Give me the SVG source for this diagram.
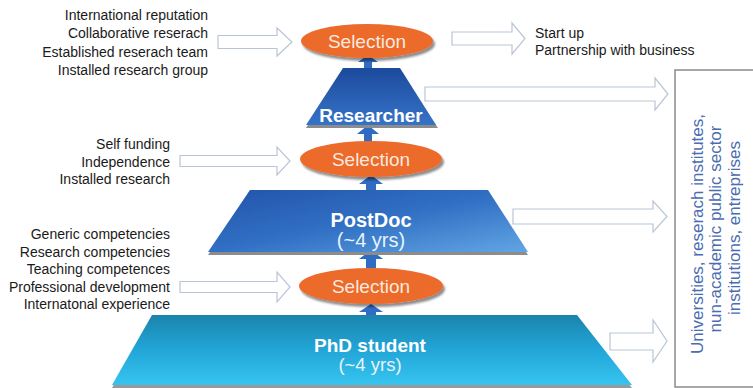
<svg xmlns="http://www.w3.org/2000/svg" width="753" height="388" viewBox="0 0 753 388">
<defs>
<linearGradient id="gRes" x1="0" y1="0" x2="0" y2="1"><stop offset="0" stop-color="#1c4a9c"/><stop offset="1" stop-color="#3573c8"/></linearGradient>
<linearGradient id="gPost" x1="0" y1="0" x2="1" y2="1"><stop offset="0" stop-color="#2254aa"/><stop offset="0.5" stop-color="#3170c4"/><stop offset="1" stop-color="#62a6e4"/></linearGradient>
<linearGradient id="gPhd" x1="0" y1="0" x2="0" y2="1"><stop offset="0" stop-color="#1a84ad"/><stop offset="0.5" stop-color="#22a6d8"/><stop offset="1" stop-color="#36c4ef"/></linearGradient>
<filter id="sh" x="-10%" y="-10%" width="130%" height="140%"><feGaussianBlur in="SourceAlpha" stdDeviation="1.2"/><feOffset dx="2" dy="3"/><feComponentTransfer><feFuncA type="linear" slope="0.45"/></feComponentTransfer><feMerge><feMergeNode/><feMergeNode in="SourceGraphic"/></feMerge></filter>
</defs>
<style>
.lbl{font-family:"Liberation Sans",Arial,sans-serif;font-size:14px;fill:#1a1a1a}
.r{text-anchor:end}
.hollow{fill:#ffffff;stroke:#b9c5d6;stroke-width:1.2}
.sel{fill:#ec6a2c}
.seltx{font-family:"Liberation Sans",Arial,sans-serif;font-size:19px;fill:#fbe9df;text-anchor:middle}
.up{fill:#2f6cc2}
.lvl{font-family:"Liberation Sans",Arial,sans-serif;font-weight:bold;fill:#ffffff;text-anchor:middle}
.sub{font-family:"Liberation Sans",Arial,sans-serif;fill:#e8f2fb;text-anchor:middle}
.box{fill:#ffffff;stroke:#8a8a8a;stroke-width:1.5}
.vt{font-family:"Liberation Sans",Arial,sans-serif;font-size:17px;fill:#4a6cb0;text-anchor:middle}
</style>
<rect width="753" height="388" fill="#ffffff"/>

<g id="connectors">
<polygon class="hollow" points="218,35.5 277,35.5 277,28 292,42 277,56 277,48.5 218,48.5"/>
<polygon class="hollow" points="180,155.5 277,155.5 277,147 290,161 277,175 277,166.5 180,166.5"/>
<polygon class="hollow" points="180,281.5 277,281.5 277,272 290,287 277,302 277,292.5 180,292.5"/>
<polygon class="hollow" points="452,32 512,32 512,23 525,38.5 512,54 512,45 452,45"/>
<polygon class="hollow" points="425,87 655,87 655,78 668,94 655,110 655,101 425,101"/>
<polygon class="hollow" points="513,209 653,209 653,201 667,216.5 653,232 653,224 513,224"/>
<polygon class="hollow" points="610,333 653,333 653,320 667,341 653,362 653,350 610,350"/>
<polygon class="up" points="364,68 364,62 358,62 368,55 378,62 372,62 372,68"/>
<polygon class="up" points="364,144 364,134 357,134 368,125 379,134 372,134 372,144"/>
<polygon class="up" points="366,192 366,184 359,184 371,175 383,184 376,184 376,192"/>
<polygon class="up" points="366,268 366,259 359,259 371,250 383,259 376,259 376,268"/>
<polygon class="up" points="366,316 366,312 359,312 371,304 383,312 376,312 376,316"/>
</g>

<g id="phd">
<polygon points="152,318 577,318 632,388 112,388" fill="#9a9a9a"/>
<polygon points="152,315 577,315 632,385 112,385" fill="url(#gPhd)"/>
<text class="lvl" x="370" y="352" font-size="19">PhD student</text>
<text class="sub" x="370" y="371" font-size="18.5">(~4 yrs)</text>
</g>

<g id="postdoc">
<polygon points="250,193 488,193 528,255 208,255" fill="#8c8c8c"/>
<polygon points="250,190 488,190 528,252 208,252" fill="url(#gPost)"/>
<text class="lvl" x="371" y="227" font-size="20">PostDoc</text>
<text class="sub" x="371" y="247" font-size="20">(~4 yrs)</text>
</g>

<g id="researcher">
<polygon points="343,71 400,71 438,128 306,128" fill="#8c8c8c"/>
<polygon points="343,68 400,68 436,125 306,125" fill="url(#gRes)"/>
<text class="lvl" x="371" y="122" font-size="19">Researcher</text>
</g>

<g id="selection-top">
<ellipse class="sel" cx="367" cy="41" rx="66" ry="17" filter="url(#sh)"/>
<text class="seltx" x="367" y="48">Selection</text>
</g>
<g id="selection-mid">
<ellipse class="sel" cx="371" cy="159" rx="71" ry="18" filter="url(#sh)"/>
<text class="seltx" x="371" y="166">Selection</text>
</g>
<g id="selection-bot">
<ellipse class="sel" cx="371" cy="286" rx="72" ry="18" filter="url(#sh)"/>
<text class="seltx" x="371" y="293">Selection</text>
</g>

<g id="req-top">
<text class="lbl r" x="208" y="20">International reputation</text>
<text class="lbl r" x="208" y="38">Collaborative reserach</text>
<text class="lbl r" x="208" y="57">Established reserach team</text>
<text class="lbl r" x="208" y="75">Installed research group</text>
</g>
<g id="req-mid">
<text class="lbl r" x="170" y="149">Self funding</text>
<text class="lbl r" x="170" y="167">Independence</text>
<text class="lbl r" x="170" y="184">Installed research</text>
</g>
<g id="req-bot">
<text class="lbl r" x="170" y="239">Generic competencies</text>
<text class="lbl r" x="170" y="257">Research competencies</text>
<text class="lbl r" x="170" y="274">Teaching competences</text>
<text class="lbl r" x="170" y="292">Professional development</text>
<text class="lbl r" x="170" y="309">Internatonal experience</text>
</g>
<g id="outcome-top">
<text class="lbl" x="535" y="38">Start up</text>
<text class="lbl" x="535" y="55">Partnership with business</text>
</g>

<g id="employers">
<rect class="box" x="675" y="70" width="90" height="317"/>
<text class="vt" transform="translate(703,234) rotate(-90)">Universities, reserach institutes,</text>
<text class="vt" transform="translate(721,229) rotate(-90)">nun-academic public sector</text>
<text class="vt" transform="translate(740,228) rotate(-90)">institutions, entreprises</text>
</g>
</svg>
